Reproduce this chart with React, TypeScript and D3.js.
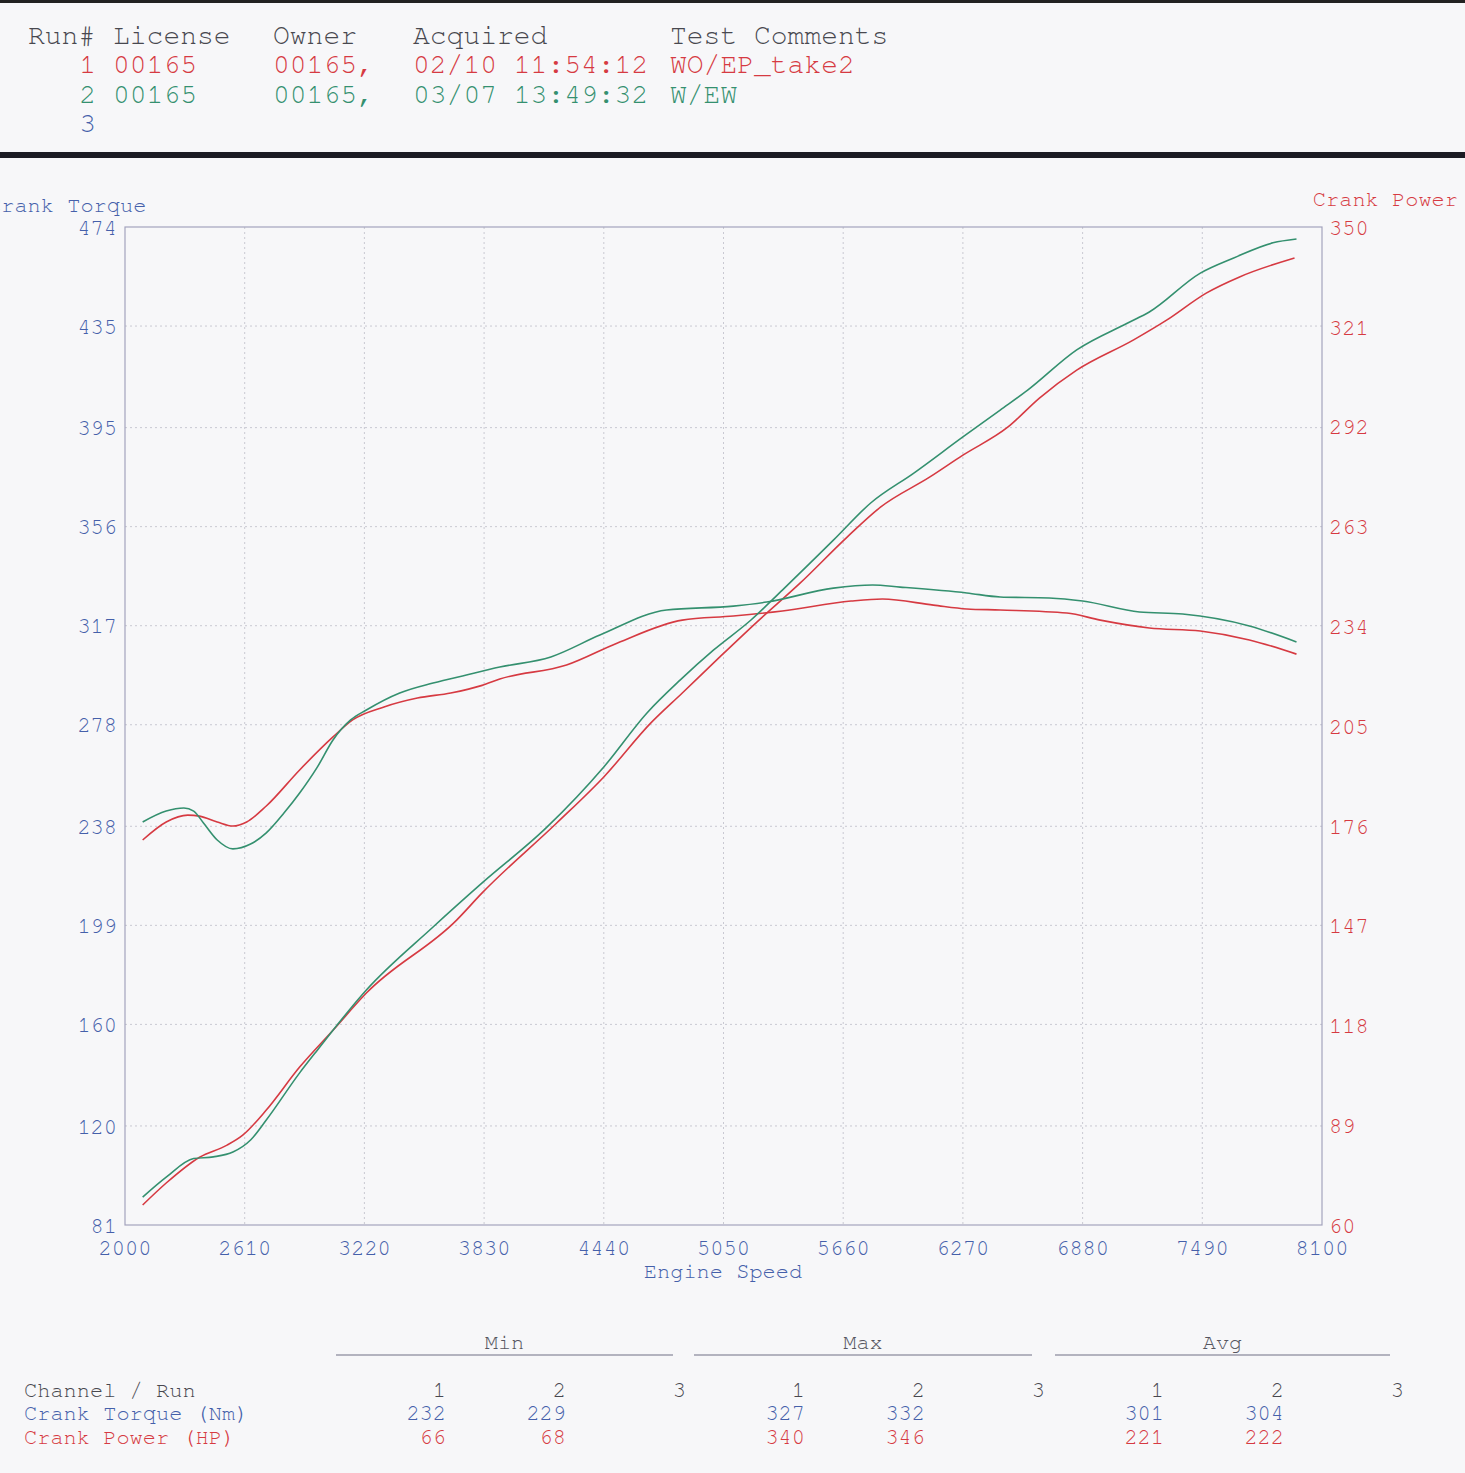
import React from 'react';
import * as d3 from 'd3';

// rpm, Nm  (run 1 = red, run 2 = green)
const torqueRun1: [number, number][] = [
  [2090, 232.6], [2210, 239.7], [2320, 242.4], [2380, 242], [2470, 239.7], [2550, 238.1],
  [2620, 239.7], [2720, 246], [2890, 260.2], [3060, 273.2], [3160, 279.9], [3320, 285],
  [3490, 288.5], [3660, 290.5], [3820, 293.5], [3910, 296], [4250, 301.5], [4510, 310.2],
  [4840, 319.2], [5100, 320.8], [5350, 322.8], [5700, 326.7], [5860, 327.5], [6120, 325.1],
  [6290, 323.6], [6460, 323.2], [6800, 322], [6970, 319.2], [7220, 316.1], [7480, 314.9],
  [7730, 311.4], [7970, 305.8],
];
const torqueRun2: [number, number][] = [
  [2090, 239.7], [2210, 244], [2300, 245.2], [2350, 244], [2400, 239.3], [2470, 232.6],
  [2550, 229.1], [2640, 231], [2720, 235.4], [2810, 243.2], [2890, 251.1], [2980, 261.3],
  [3060, 272], [3150, 279.9], [3230, 283.8], [3400, 290.5], [3570, 294.4], [3740, 297.6],
  [3910, 300.7], [4170, 304.7], [4420, 313.3], [4760, 323.2], [5100, 324.7], [5270, 326.3],
  [5610, 331.8], [5810, 333], [5950, 332.2], [6290, 329.9], [6460, 328.3], [6710, 327.9],
  [6880, 326.7], [7170, 322.4], [7390, 321.6], [7730, 316.9], [7970, 310.6],
];
// rpm, HP
const powerRun1: [number, number][] = [
  [2090, 65.8], [2210, 72.2], [2380, 79.7], [2520, 83.2], [2600, 86.1], [2720, 93.4],
  [2890, 105.9], [3060, 116.6], [3230, 127.4], [3690, 148.6], [3820, 156.5], [4200, 176.8],
  [4440, 190.2], [4680, 205.9], [4840, 214.6], [5030, 225], [5220, 235.2], [5440, 246.5],
  [5680, 259.9], [5850, 268.6], [6100, 277.3], [6270, 283.7], [6500, 291.9], [6660, 300.3],
  [6850, 308.4], [7140, 317.2], [7310, 323], [7510, 330.8], [7680, 335.5], [7960, 341],
];
const powerRun2: [number, number][] = [
  [2090, 68.1], [2210, 73.9], [2350, 79.3], [2450, 79.8], [2550, 81.2], [2640, 84.7],
  [2720, 90.5], [2890, 104.2], [2980, 110.8], [3230, 128.3], [3570, 146.6], [3820, 159.4],
  [4150, 175.6], [4440, 193.1], [4660, 208.8], [4830, 218.4], [5000, 227.1], [5190, 235.8],
  [5350, 244.5], [5610, 259], [5800, 269.8], [6020, 278.5], [6270, 289], [6460, 296.8],
  [6600, 302.6], [6850, 314.3], [7110, 322.1], [7220, 325.3], [7480, 336.6], [7650, 341],
  [7850, 345.4], [7970, 346.5],
];

const rpmTicks = [2000, 2610, 3220, 3830, 4440, 5050, 5660, 6270, 6880, 7490, 8100];
const torqueTicks = [81, 120, 160, 199, 238, 278, 317, 356, 395, 435, 474];
const powerTicks = [60, 89, 118, 147, 176, 205, 234, 263, 292, 321, 350];

const runRows = [
  { run: '1', license: '00165', owner: '00165,', acquired: '02/10 11:54:12', comment: 'WO/EP_take2' },
  { run: '2', license: '00165', owner: '00165,', acquired: '03/07 13:49:32', comment: 'W/EW' },
  { run: '3', license: '', owner: '', acquired: '', comment: '' },
];

const statGroups = ['Min', 'Max', 'Avg'];
const runLabels = ['1', '2', '3'];
const torqueStats = [['232', '229', ''], ['327', '332', ''], ['301', '304', '']];
const powerStats = [['66', '68', ''], ['340', '346', ''], ['221', '222', '']];

const RED = '#d63a42';
const GREEN = '#34906f';
const BLUE = '#4560aa';
const GREY = '#48484f';
const FONT = '"Nimbus Mono PS", "Nimbus Mono L", "FreeMono", "Courier New", "Liberation Mono", monospace';

const W = 1465;
const H = 1473;
const plot = { left: 125, right: 1322, top: 227, bottom: 1225 };

const App: React.FC = () => {
  const x = d3.scaleLinear().domain([2000, 8100]).range([plot.left, plot.right]);
  const yT = d3.scaleLinear().domain([81, 474]).range([plot.bottom, plot.top]);
  const yP = d3.scaleLinear().domain([60, 350]).range([plot.bottom, plot.top]);

  const torqueLine = d3.line<[number, number]>()
    .x(d => x(d[0]))
    .y(d => yT(d[1]))
    .curve(d3.curveMonotoneX);
  const powerLine = d3.line<[number, number]>()
    .x(d => x(d[0]))
    .y(d => yP(d[1]))
    .curve(d3.curveMonotoneX);

  const runColor = (i: number) => (i === 0 ? RED : i === 1 ? GREEN : BLUE);
  const headerCols = [28, 113, 273, 413, 670];

  // table column right edges for run 1..3 in each group
  const groupStart = [446, 805, 1164];
  const colStep = 120;
  const underline = [[336, 673], [694, 1032], [1055, 1390]];

  return (
    <svg width={W} height={H} style={{ position: 'absolute', left: 0, top: 0 }} fontFamily={FONT}>
      <rect x={0} y={0} width={W} height={H} fill="#f7f7f9" />

      {/* header block */}
      <rect x={0} y={0} width={W} height={3} fill="#222" />
      <g fontSize={28} fill={GREY}>
        <text x={headerCols[0]} y={44}>Run#</text>
        <text x={headerCols[1]} y={44}>License</text>
        <text x={headerCols[2]} y={44}>Owner</text>
        <text x={headerCols[3]} y={44}>Acquired</text>
        <text x={headerCols[4]} y={44}>Test Comments</text>
        {runRows.map((r, i) => {
          const yy = 73 + i * 29.5;
          return (
            <g key={r.run} fill={runColor(i)}>
              <text x={96} y={yy} textAnchor="end">{r.run}</text>
              <text x={headerCols[1]} y={yy}>{r.license}</text>
              <text x={headerCols[2]} y={yy}>{r.owner}</text>
              <text x={headerCols[3]} y={yy}>{r.acquired}</text>
              <text x={headerCols[4]} y={yy}>{r.comment}</text>
            </g>
          );
        })}
      </g>
      <rect x={0} y={152} width={W} height={6} fill="#1c1c24" />

      {/* grid */}
      <g stroke="#c9c9d2" strokeWidth={1} strokeDasharray="2,3">
        {rpmTicks.slice(1, -1).map(t => (
          <line key={`gx${t}`} x1={x(t)} x2={x(t)} y1={plot.top} y2={plot.bottom} />
        ))}
        {torqueTicks.slice(1, -1).map(t => (
          <line key={`gy${t}`} x1={plot.left} x2={plot.right} y1={yT(t)} y2={yT(t)} />
        ))}
      </g>
      <rect
        x={plot.left}
        y={plot.top}
        width={plot.right - plot.left}
        height={plot.bottom - plot.top}
        fill="none"
        stroke="#a3a3bd"
        strokeWidth={1.2}
      />

      {/* axes labels */}
      <g fontSize={22} fill={BLUE}>
        <text x={-12} y={212}>Crank Torque</text>
        {torqueTicks.map(t => (
          <text key={`lt${t}`} x={117} y={yT(t)} dy="0.35em" textAnchor="end">{t}</text>
        ))}
        {rpmTicks.map(t => (
          <text key={`xt${t}`} x={x(t)} y={1255} textAnchor="middle">{t}</text>
        ))}
        <text x={723} y={1278} textAnchor="middle">Engine Speed</text>
      </g>
      <g fontSize={22} fill={RED}>
        <text x={1458} y={206} textAnchor="end">Crank Power</text>
        {powerTicks.map(t => (
          <text key={`rt${t}`} x={1329} y={yP(t)} dy="0.35em">{t}</text>
        ))}
      </g>

      {/* curves */}
      <g fill="none" strokeWidth={1.6} strokeLinejoin="round">
        <path d={torqueLine(torqueRun1) || ''} stroke={RED} />
        <path d={powerLine(powerRun1) || ''} stroke={RED} />
        <path d={torqueLine(torqueRun2) || ''} stroke={GREEN} />
        <path d={powerLine(powerRun2) || ''} stroke={GREEN} />
      </g>

      {/* summary table */}
      <g fontSize={22}>
        {statGroups.map((g, gi) => (
          <g key={g}>
            <text
              x={(underline[gi][0] + underline[gi][1]) / 2}
              y={1349}
              textAnchor="middle"
              fill="#55555f"
            >
              {g}
            </text>
            <line
              x1={underline[gi][0]}
              x2={underline[gi][1]}
              y1={1355}
              y2={1355}
              stroke="#9c9cab"
              strokeWidth={1.5}
            />
            {runLabels.map((r, ri) => (
              <text key={`r${ri}`} x={groupStart[gi] + ri * colStep} y={1397} textAnchor="end" fill={GREY}>
                {r}
              </text>
            ))}
            {torqueStats[gi].map((v, ri) => (
              <text key={`t${ri}`} x={groupStart[gi] + ri * colStep} y={1420} textAnchor="end" fill={BLUE}>
                {v}
              </text>
            ))}
            {powerStats[gi].map((v, ri) => (
              <text key={`p${ri}`} x={groupStart[gi] + ri * colStep} y={1444} textAnchor="end" fill={RED}>
                {v}
              </text>
            ))}
          </g>
        ))}
        <text x={24} y={1397} fill={GREY}>Channel / Run</text>
        <text x={24} y={1420} fill={BLUE}>Crank Torque (Nm)</text>
        <text x={24} y={1444} fill={RED}>Crank Power (HP)</text>
      </g>
    </svg>
  );
};

export default App;
